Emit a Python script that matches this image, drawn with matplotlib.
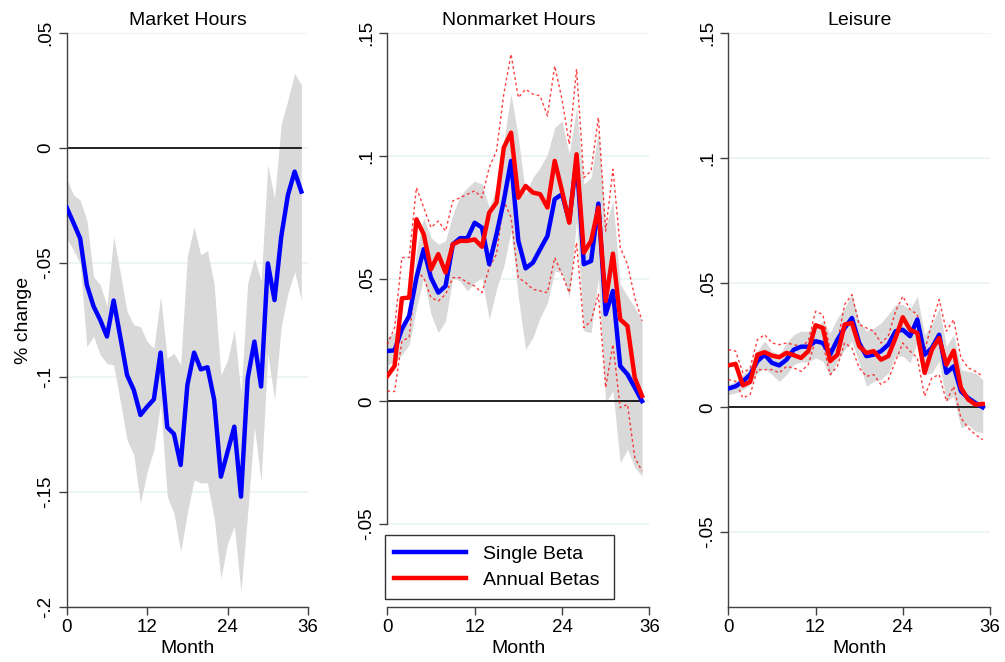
import numpy as np
import matplotlib
matplotlib.use("Agg")
import matplotlib.pyplot as plt

plt.rcParams['font.family'] = ['Liberation Sans', 'DejaVu Sans']

months = np.arange(36)

# Market hours: single beta estimate and its band
mkt_single = [-0.026, -0.0326, -0.0394, -0.0597, -0.069, -0.075, -0.0822, -0.0665, -0.0825, -0.099,
              -0.1055, -0.1164, -0.1128, -0.1096, -0.0892, -0.1218, -0.1247, -0.1382, -0.1033, -0.0892,
              -0.0965, -0.0956, -0.1098, -0.1433, -0.1324, -0.1215, -0.152, -0.1004, -0.0844, -0.104,
              -0.0503, -0.0663, -0.0387, -0.0205, -0.0103, -0.019]
mkt_hi = [-0.0132, -0.0205, -0.0227, -0.0314, -0.0561, -0.0597, -0.069, -0.0386, -0.0546, -0.0713,
          -0.0771, -0.0779, -0.0844, -0.0873, -0.0648, -0.0917, -0.0895, -0.0946, -0.047, -0.0343,
          -0.0466, -0.0447, -0.0597, -0.099, -0.0924, -0.0793, -0.107, -0.059, -0.048, -0.058,
          -0.0074, -0.022, 0.0105, 0.021, 0.0326, 0.0275]
mkt_lo = [-0.0394, -0.0445, -0.0503, -0.0866, -0.0822, -0.0902, -0.0939, -0.0946, -0.1106, -0.1273,
          -0.1338, -0.1549, -0.1411, -0.1316, -0.1113, -0.152, -0.1592, -0.176, -0.159, -0.1447,
          -0.146, -0.146, -0.1614, -0.1876, -0.1723, -0.165, -0.1934, -0.159, -0.1215, -0.1454,
          -0.0895, -0.1098, -0.0779, -0.0633, -0.054, -0.0663]

# Nonmarket hours
non_single = [0.0205, 0.0208, 0.0294, 0.0348, 0.0504, 0.062, 0.0504, 0.0443, 0.047, 0.064,
              0.0665, 0.0665, 0.0728, 0.0708, 0.0559, 0.0681, 0.0817, 0.098, 0.0654, 0.0542,
              0.0565, 0.062, 0.0674, 0.0824, 0.0844, 0.0735, 0.0985, 0.0559, 0.0572, 0.0806,
              0.0355, 0.045, 0.0144, 0.011, 0.0056, 0.0001]
non_hi = [0.026, 0.028, 0.0287, 0.033, 0.0613, 0.0749, 0.0667, 0.064, 0.0654, 0.0762,
          0.0837, 0.0871, 0.0898, 0.0885, 0.079, 0.0871, 0.1061, 0.1252, 0.1075, 0.0844,
          0.0912, 0.0953, 0.1007, 0.1116, 0.1143, 0.1007, 0.1197, 0.0885, 0.0912, 0.1102,
          0.0715, 0.0817, 0.0477, 0.0429, 0.0382, 0.0328]
non_lo = [0.015, 0.0158, 0.019, 0.023, 0.038, 0.0504, 0.0355, 0.028, 0.0328, 0.0504,
          0.049, 0.045, 0.0484, 0.0504, 0.0334, 0.0457, 0.055, 0.0694, 0.0423, 0.0212,
          0.026, 0.0341, 0.0402, 0.0531, 0.0525, 0.0423, 0.0735, 0.0287, 0.028, 0.0504,
          -0.0005, 0.0042, -0.025, -0.0196, -0.027, -0.0304]
non_annual = [0.0103, 0.0144, 0.042, 0.0423, 0.0742, 0.0681, 0.0538, 0.06, 0.0525, 0.064,
              0.0654, 0.0654, 0.066, 0.063, 0.0769, 0.081, 0.1034, 0.1095, 0.083, 0.0878,
              0.0851, 0.0844, 0.079, 0.098, 0.0858, 0.0728, 0.1007, 0.0606, 0.0654, 0.079,
              0.0409, 0.0602, 0.0334, 0.0307, 0.0096, 0.0022]
non_annual_hi = [0.0232, 0.03, 0.0586, 0.0586, 0.0871, 0.079, 0.0708, 0.0735, 0.0694, 0.0817,
                 0.083, 0.0844, 0.0858, 0.083, 0.0953, 0.102, 0.1252, 0.1415, 0.1238, 0.1272,
                 0.1252, 0.1245, 0.1163, 0.1367, 0.1231, 0.1048, 0.1354, 0.0912, 0.0939, 0.1157,
                 0.0694, 0.0946, 0.0627, 0.0559, 0.0423, 0.0328]
non_annual_lo = [0.0042, 0.004, 0.0246, 0.026, 0.0531, 0.0504, 0.0423, 0.0409, 0.0436, 0.0504,
                 0.0504, 0.0484, 0.047, 0.0443, 0.0545, 0.06, 0.0817, 0.075, 0.0504, 0.0484,
                 0.0457, 0.045, 0.0443, 0.0586, 0.0518, 0.0443, 0.0647, 0.03, 0.0328, 0.0436,
                 0.0056, 0.0232, -0.0026, -0.0012, -0.0229, -0.0284]

# Leisure
lei_single = [0.0075, 0.0084, 0.0104, 0.0131, 0.0185, 0.0211, 0.0178, 0.0168, 0.0191, 0.0231,
              0.0243, 0.0243, 0.0265, 0.0258, 0.0211, 0.0271, 0.0318, 0.0358, 0.0258, 0.0205,
              0.0211, 0.0225, 0.0251, 0.0305, 0.0311, 0.0285, 0.0352, 0.0211, 0.0238, 0.0291,
              0.0138, 0.0164, 0.0064, 0.0037, 0.0017, 0.0]
lei_hi = [0.0091, 0.0104, 0.0131, 0.0164, 0.0225, 0.0267, 0.0225, 0.0211, 0.0258, 0.0291,
          0.0305, 0.0305, 0.0325, 0.0345, 0.0298, 0.0358, 0.0398, 0.0455, 0.0345, 0.0305,
          0.0318, 0.0338, 0.0372, 0.0412, 0.0412, 0.0392, 0.0445, 0.0291, 0.0332, 0.0398,
          0.0245, 0.0291, 0.0151, 0.0144, 0.0138, 0.0111]
lei_lo = [0.0051, 0.0057, 0.0071, 0.0091, 0.0138, 0.0158, 0.0131, 0.0104, 0.0131, 0.0171,
          0.0182, 0.0182, 0.0198, 0.0185, 0.0124, 0.0185, 0.0231, 0.0265, 0.0178, 0.0084,
          0.0104, 0.0111, 0.0138, 0.0205, 0.0205, 0.0178, 0.0265, 0.0131, 0.0138, 0.0185,
          0.0024, 0.0044, -0.0083, -0.007, -0.0096, -0.0103]
lei_annual = [0.0168, 0.0174, 0.0088, 0.0102, 0.0211, 0.0221, 0.0207, 0.0201, 0.0218, 0.0209,
              0.0198, 0.0225, 0.0329, 0.0318, 0.0185, 0.0211, 0.0332, 0.0338, 0.0245, 0.0218,
              0.0225, 0.0191, 0.0205, 0.0278, 0.0361, 0.0311, 0.0298, 0.0138, 0.0231, 0.0278,
              0.0171, 0.0227, 0.0078, 0.0031, 0.0011, 0.0013]
lei_annual_hi = [0.0231, 0.0225, 0.0138, 0.0158, 0.0271, 0.0291, 0.0258, 0.0251, 0.0258, 0.0251,
                 0.0245, 0.0265, 0.0385, 0.0372, 0.0231, 0.0258, 0.0412, 0.0452, 0.0332, 0.0318,
                 0.0305, 0.0258, 0.0285, 0.0385, 0.0445, 0.0392, 0.0372, 0.0225, 0.0338, 0.0432,
                 0.0305, 0.0352, 0.0198, 0.0158, 0.0144, 0.0124]
lei_annual_lo = [0.0111, 0.0104, 0.0037, 0.0051, 0.0151, 0.0151, 0.0151, 0.0138, 0.0164, 0.0158,
                 0.0144, 0.0171, 0.0271, 0.0258, 0.0131, 0.0164, 0.0258, 0.0238, 0.0158, 0.0124,
                 0.0131, 0.0091, 0.0111, 0.0185, 0.0258, 0.0225, 0.0198, 0.0044, 0.0118, 0.0131,
                 0.0024, 0.0084, -0.0043, -0.0083, -0.011, -0.013]

titles = ["Market Hours", "Nonmarket Hours", "Leisure"]
xticks = [0, 12, 24, 36]
mkt_yticks = [0.05, 0, -0.05, -0.1, -0.15, -0.2]
mkt_ylabels = [".05", "0", "-.05", "-.1", "-.15", "-.2"]
oth_yticks = [0.15, 0.1, 0.05, 0, -0.05]
oth_ylabels = [".15", ".1", ".05", "0", "-.05"]

blue = "#0000ff"
red = "#ff0000"
band = "#d9d9d9"
grid_c = "#eaf2f3"
spine_c = "#404040"

fig = plt.figure(figsize=(10.05, 6.62), dpi=100)
ax1 = fig.add_axes([0.0664, 0.0835, 0.2401, 0.8662])
ax2 = fig.add_axes([0.3854, 0.0835, 0.2607, 0.8662])
ax3 = fig.add_axes([0.7247, 0.0835, 0.2604, 0.8662])


def style(ax, title, yticks, ylabels, ylim, spine_lo):
    ax.set_xlim(0, 36)
    ax.set_ylim(*ylim)
    ax.set_xticks(xticks)
    ax.set_yticks(yticks)
    ax.set_yticklabels(ylabels, rotation=90, va='center')
    for t in yticks:
        ax.axhline(t, color=grid_c, lw=1.2, zorder=0)
    for s in ['top', 'right']:
        ax.spines[s].set_visible(False)
    for s in ['left', 'bottom']:
        ax.spines[s].set_color(spine_c)
        ax.spines[s].set_linewidth(1.0)
    ax.spines['left'].set_bounds(spine_lo, yticks[0])
    ax.tick_params(axis='both', labelsize=13.5, length=6, width=1.0, color=spine_c, pad=3)
    ax.set_title(title, fontsize=14, pad=6)
    ax.set_xlabel("Month", fontsize=14, labelpad=3)


# panel 1
ax1.fill_between(months, mkt_lo, mkt_hi, color=band, lw=0, zorder=1)
ax1.plot([months[0], months[-1]], [0, 0], color='black', lw=1.2, zorder=2)
ax1.plot(months, mkt_single, color=blue, lw=3.2, zorder=4)
style(ax1, titles[0], mkt_yticks, mkt_ylabels, (-0.2, 0.05), -0.2)
ax1.set_ylabel("% change", fontsize=14, labelpad=4)

# panels 2 and 3
panels = [
    (ax2, non_lo, non_hi, non_single, non_annual, non_annual_lo, non_annual_hi, (-0.0837, 0.15), -0.05),
    (ax3, lei_lo, lei_hi, lei_single, lei_annual, lei_annual_lo, lei_annual_hi, (-0.080, 0.15), -0.080),
]
for i, (ax, lo, hi, single, annual, alo, ahi, ylim, slo) in enumerate(panels):
    ax.fill_between(months, lo, hi, color=band, lw=0, zorder=1)
    ax.plot([months[0], months[-1]], [0, 0], color='black', lw=1.2, zorder=2)
    ax.plot(months, ahi, color=red, lw=1.0, ls=(0, (2, 2)), alpha=0.75, zorder=3)
    ax.plot(months, alo, color=red, lw=1.0, ls=(0, (2, 2)), alpha=0.75, zorder=3)
    ax.plot(months, single, color=blue, lw=3.2, zorder=4, label="Single Beta")
    ax.plot(months, annual, color=red, lw=3.2, zorder=5, label="Annual Betas")
    style(ax, titles[i + 1], oth_yticks, oth_ylabels, ylim, slo)

leg = ax2.legend(loc='lower left', bbox_to_anchor=(-0.01, 0.014, 0.875, 0.116), mode='expand',
                 fontsize=14, handlelength=3.7, frameon=True, fancybox=False, borderpad=0.5,
                 labelspacing=0.45, handletextpad=0.85, borderaxespad=0)
leg.get_frame().set_edgecolor('black')
leg.get_frame().set_linewidth(1.0)

fig.savefig("out.png", dpi=100)
